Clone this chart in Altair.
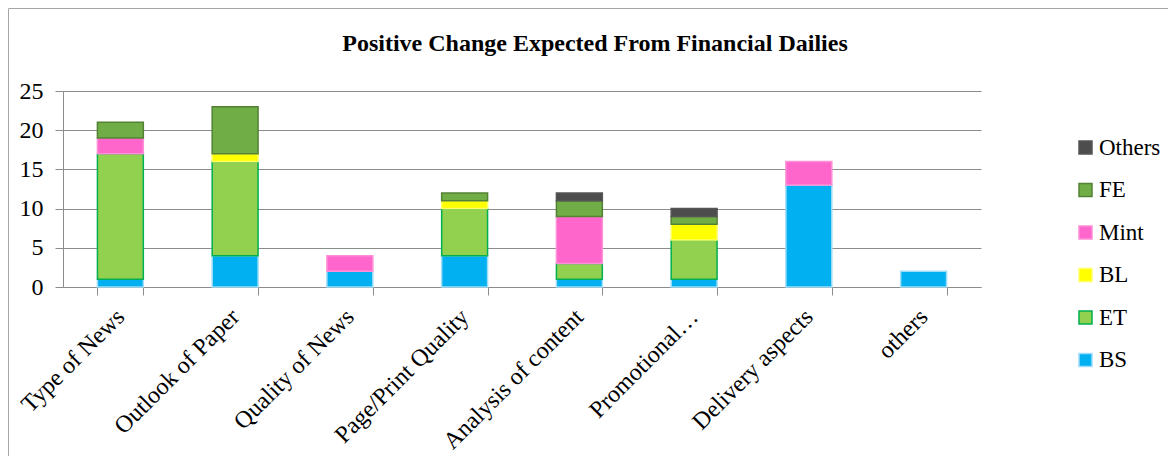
import altair as alt
import pandas as pd

categories = ["Type of News", "Outlook of Paper", "Quality of News", "Page/Print Quality",
              "Analysis of content", "Promotional…", "Delivery aspects", "others"]
series = ["BS", "ET", "BL", "Mint", "FE", "Others"]
BS = [1, 4, 2, 4, 1, 1, 13, 2]
ET = [16, 12, 0, 6, 2, 5, 0, 0]
BL = [0, 1, 0, 1, 0, 2, 0, 0]
Mint = [2, 0, 2, 0, 6, 0, 3, 0]
FE = [2, 6, 0, 1, 2, 1, 0, 0]
Others = [0, 0, 0, 0, 1, 1, 0, 0]
values = {"BS": BS, "ET": ET, "BL": BL, "Mint": Mint, "FE": FE, "Others": Others}

fills = {"BS": "#00B0F0", "ET": "#92D050", "BL": "#FFFF00", "Mint": "#FF66CC",
         "FE": "#70AD47", "Others": "#4D4D4D"}
strokes = {"BS": "#9EDDF7", "ET": "#00B050", "BL": "#FFFF66", "Mint": "#FF8FD6",
           "FE": "#548235", "Others": "#555555"}

rows = []
for si, s in enumerate(series):
    for ci, c in enumerate(categories):
        rows.append({"cat": c, "series": s, "value": values[s][ci], "ord": si})
df = pd.DataFrame(rows)

legend_order = ["Others", "FE", "Mint", "BL", "ET", "BS"]
FONT = "Liberation Serif"

bars = alt.Chart(df).transform_filter("datum.value > 0").mark_bar(strokeWidth=1.5).encode(
    x=alt.X("cat:N", sort=categories,
            scale=alt.Scale(paddingInner=0.6, paddingOuter=0.3),
            axis=alt.Axis(title=None, labelAngle=-45, labelAlign="right",
                          labelBaseline="middle", labelFontSize=24,
                          labelPadding=18, tickBand="extent",
                          tickSize=8, labelOverlap=False, labelLimit=400)),
    y=alt.Y("value:Q", stack="zero",
            scale=alt.Scale(domain=[0, 25], nice=False),
            axis=alt.Axis(title=None, values=[0, 5, 10, 15, 20, 25], labelFontSize=24,
                          labelPadding=12, tickSize=8)),
    color=alt.Color("series:N",
                    scale=alt.Scale(domain=legend_order, range=[fills[s] for s in legend_order]),
                    legend=alt.Legend(title=None, orient="none", legendX=1011, legendY=45)),
    stroke=alt.Stroke("series:N",
                      scale=alt.Scale(domain=legend_order, range=[strokes[s] for s in legend_order]),
                      legend=None),
    order=alt.Order("ord:Q", sort="ascending"),
)

frame = alt.Chart(pd.DataFrame({"a": [0]})).mark_rect(
    fill=None, stroke="#A6A6A6", strokeWidth=1
).encode(
    x=alt.value(-54.5), x2=alt.value(1300), y=alt.value(-82.5), y2=alt.value(600)
)

chart = alt.layer(frame, bars).properties(
    width=918, height=196,
    padding={"left": 55, "top": 83, "right": 187, "bottom": 169},
    autosize=alt.AutoSizeParams(type="none"),
    title=alt.TitleParams("Positive Change Expected From Financial Dailies",
                          font=FONT, fontSize=24, fontWeight="bold", color="black",
                          anchor="middle", frame="group", dx=73, offset=-48),
).configure(font=FONT).configure_view(stroke=None).configure_axis(
    labelFont=FONT, labelColor="black", tickColor="#8C8C8C", domainColor="#8C8C8C",
    gridColor="#8C8C8C", gridWidth=1
).configure_legend(
    labelFont=FONT, labelFontSize=23, labelColor="black", symbolType="square",
    symbolSize=169, symbolStrokeWidth=1.5, rowPadding=18.5, labelOffset=2, padding=0
)

chart.save("out.html", embed_options={"renderer": "svg", "actions": False})
